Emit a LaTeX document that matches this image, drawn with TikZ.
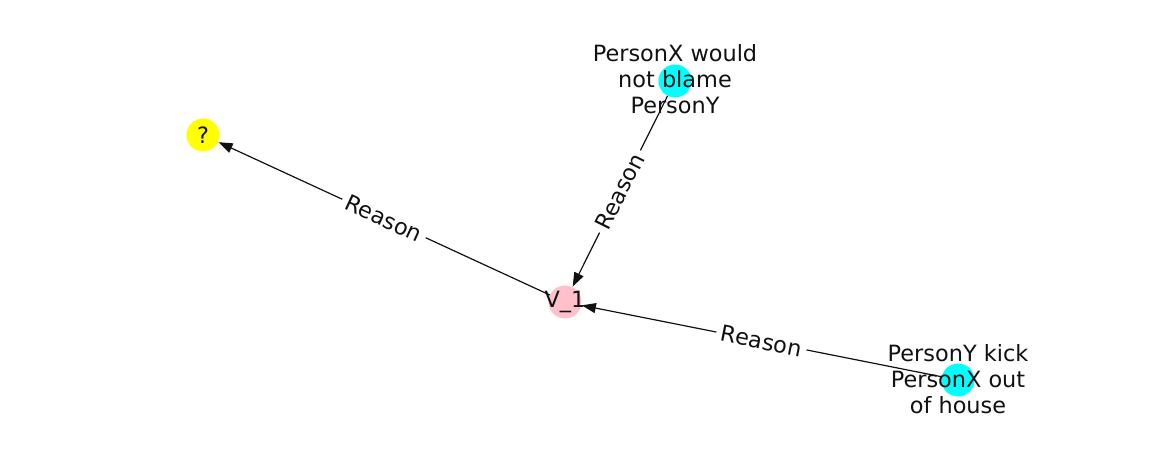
\documentclass[tikz,border=0pt]{standalone}
\usepackage{fontspec}
\setmainfont{DejaVu Sans}
\usetikzlibrary{arrows.meta}
\definecolor{nyellow}{HTML}{FFFF00}
\definecolor{npink}{HTML}{FFC0CB}
\definecolor{ncyan}{HTML}{00FFFF}
\definecolor{ink}{HTML}{111111}
\begin{document}
\begin{tikzpicture}[x=1pt,y=-1pt,
  dot/.style={circle,minimum size=33pt,inner sep=0pt},
  lbl/.style={align=center,text=ink,font=\fontsize{22.4}{26}\selectfont,inner sep=0pt},
  rel/.style={draw=ink,line width=1.2pt,-{Triangle[length=14pt,width=10pt]},shorten >=0.5pt},
  rellbl/.style={midway,sloped,fill=white,text=ink,font=\fontsize{22.4}{26}\selectfont,inner xsep=5pt,inner ysep=3pt}]
\useasboundingbox (0,0) rectangle (1162,462);
\node[dot,fill=nyellow] (q) at (203,135) {};
\node[dot,fill=npink] (v1) at (565,302) {};
\node[dot,fill=ncyan] (px) at (675,81) {};
\node[dot,fill=ncyan] (py) at (958,380) {};
\draw[rel] (v1) -- (q) node[rellbl] (l1) {Reason};
\draw[rel] (px) -- (v1) node[rellbl] (l2) {Reason};
\draw[rel] (py) -- (v1) node[rellbl] (l3) {Reason};
\node[lbl] (qt) at (203,135) {?};
\node[lbl] (v1t) at (565,302) {V\_1};
\node[lbl] (pxt) at (675,79) {PersonX would\\not blame\\PersonY};
\node[lbl] (pyt) at (958,379) {PersonY kick\\PersonX out\\of house};
\end{tikzpicture}
\end{document}
